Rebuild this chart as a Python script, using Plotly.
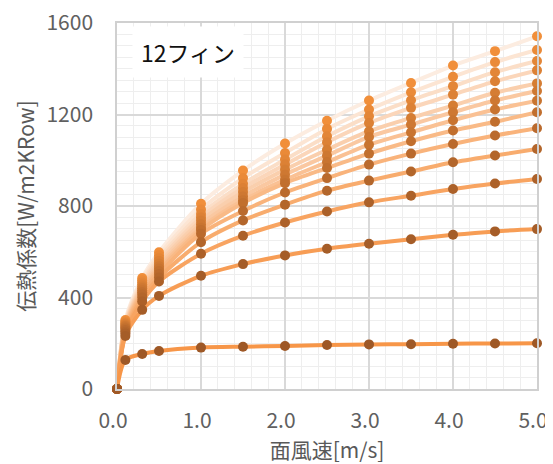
import plotly.graph_objects as go

x_vals = [0, 0.1, 0.3, 0.5, 1.0, 1.5, 2.0, 2.5, 3.0, 3.5, 4.0, 4.5, 5.0]

# series listed from the lowest curve to the highest curve
s01 = [0, 127, 153, 166, 181, 185, 188, 192, 195, 196, 198, 199, 200]
s02 = [0, 232, 346, 407, 495, 546, 584, 613, 635, 655, 674, 689, 699]
s03 = [0, 243, 383, 470, 591, 670, 728, 776, 816, 845, 874, 898, 918]
s04 = [0, 250, 400, 487, 642, 737, 806, 867, 911, 951, 991, 1021, 1049]
s05 = [0, 258, 413, 503, 679, 778, 859, 922, 981, 1029, 1071, 1108, 1140]
s06 = [0, 265, 423, 516, 695, 813, 900, 966, 1029, 1083, 1130, 1168, 1210]
s07 = [0, 270, 432, 527, 705, 825, 915, 992, 1068, 1122, 1175, 1222, 1260]
s08 = [0, 275, 440, 537, 720, 842, 937, 1020, 1102, 1156, 1210, 1261, 1303]
s09 = [0, 280, 448, 548, 735, 861, 959, 1046, 1127, 1185, 1239, 1295, 1336]
s10 = [0, 285, 457, 560, 750, 879, 981, 1079, 1163, 1229, 1287, 1345, 1393]
s11 = [0, 290, 466, 572, 765, 897, 1003, 1105, 1192, 1262, 1324, 1385, 1434]
s12 = [0, 295, 475, 585, 785, 922, 1032, 1137, 1222, 1297, 1365, 1429, 1482]
s13 = [0, 302, 485, 598, 810, 955, 1073, 1173, 1261, 1338, 1414, 1477, 1542]

series = [s01, s02, s03, s04, s05, s06, s07, s08, s09, s10, s11, s12, s13]

x_ticks = [0, 1, 2, 3, 4, 5]
y_ticks = [0, 400, 800, 1200, 1600]
label_text = "12フィン"
x_title = "面風速[m/s]"
y_title = "伝熱係数[W/m2KRow]"

FONT = "Noto Sans CJK JP"


def lerp(c0, c1, t):
    return "rgb(%d,%d,%d)" % tuple(round(a + (b - a) * t) for a, b in zip(c0, c1))


n = len(series)
line_c0, line_c1 = (247, 150, 72), (252, 236, 224)
mark_c0, mark_c1 = (158, 88, 38), (241, 143, 58)

fig = go.Figure()

for i in reversed(range(n)):
    t = i / (n - 1)
    fig.add_trace(go.Scatter(
        x=x_vals, y=series[i], mode="lines",
        line=dict(color=lerp(line_c0, line_c1, t), width=4, shape="spline", smoothing=0.8),
        showlegend=False, hoverinfo="skip", cliponaxis=False))

for i in reversed(range(n)):
    t = i / (n - 1)
    fig.add_trace(go.Scatter(
        x=x_vals, y=series[i], mode="markers",
        marker=dict(color=lerp(mark_c0, mark_c1, t), size=10),
        showlegend=False, cliponaxis=False))

fig.add_annotation(
    x=0.17, y=0.92, xref="paper", yref="paper",
    text=label_text, showarrow=False,
    font=dict(family=FONT, size=23, color="#111111"),
    bgcolor="white", borderpad=8, xanchor="center", yanchor="middle")

# the page body adds an 8px offset, so the figure is 8px smaller and margins shifted
fig.update_layout(
    width=545, height=456,
    margin=dict(l=109, r=16, t=15, b=75, autoexpand=False),
    paper_bgcolor="white", plot_bgcolor="white",
    font=dict(family=FONT, color="#595959"),
)

fig.update_xaxes(
    range=[0, 5], tickvals=x_ticks, tickformat=".1f", automargin=False,
    tickfont=dict(family=FONT, size=21, color="#606060"),
    showgrid=True, gridcolor="#d9d9d9", gridwidth=1.5,
    minor=dict(dtick=0.2, showgrid=True, gridcolor="#eeeeee", gridwidth=1.3),
    showline=True, linecolor="#d0d0d0", linewidth=1.5, mirror=True,
    zeroline=False, ticks="", ticklabelstandoff=12, ticklabelshift=-4,
    ticklabeloverflow="allow",
    title=dict(text=x_title, font=dict(family=FONT, size=21, color="#595959"), standoff=2),
)
fig.update_yaxes(
    range=[0, 1600], tickvals=y_ticks, automargin=False,
    tickfont=dict(family=FONT, size=21, color="#606060"),
    showgrid=True, gridcolor="#d9d9d9", gridwidth=1.5,
    minor=dict(dtick=50, showgrid=True, gridcolor="#eeeeee", gridwidth=1.3),
    showline=True, linecolor="#d0d0d0", linewidth=1.5, mirror=True,
    zeroline=False, ticks="", ticklabelstandoff=18,
    ticklabeloverflow="allow",
    title=dict(text=y_title, font=dict(family=FONT, size=21, color="#595959"), standoff=6),
)

fig.write_html("out.html")
